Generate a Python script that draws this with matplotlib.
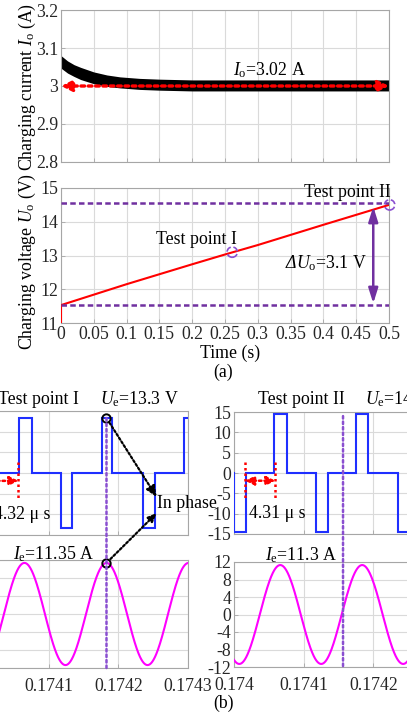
import numpy as np
import matplotlib
matplotlib.use('Agg')
import matplotlib.pyplot as plt
from matplotlib.patches import ConnectionPatch

plt.rcParams['font.family'] = ['Liberation Serif', 'DejaVu Serif']
plt.rcParams['mathtext.fontset'] = 'custom'
plt.rcParams['mathtext.rm'] = 'Liberation Serif'
plt.rcParams['mathtext.it'] = 'Liberation Serif:italic'
plt.rcParams['mathtext.sf'] = 'Liberation Serif:italic'
plt.rcParams['axes.unicode_minus'] = False
plt.rcParams['font.size'] = 12.8

# ---------------- data ----------------
# (a) top: charging current ripple envelope
t_env = [0.0, 0.01, 0.02, 0.03, 0.05, 0.07, 0.09, 0.12, 0.15, 0.2, 0.3, 0.4, 0.5]
i_upper = [3.080, 3.066, 3.056, 3.049, 3.037, 3.029, 3.024, 3.020, 3.018, 3.016, 3.016, 3.016, 3.016]
i_lower = [3.047, 3.034, 3.025, 3.017, 3.006, 2.999, 2.995, 2.991, 2.989, 2.987, 2.987, 2.987, 2.987]
i_avg = 3.0

# (a) bottom: charging voltage
t_v = [0.0, 0.0, 0.1, 0.2, 0.25, 0.3, 0.4, 0.5]
u_v = [11.0, 11.53, 12.15, 12.74, 13.03, 13.31, 13.91, 14.50]
u_low, u_high = 11.53, 14.56
tp_t = [0.261, 0.501]
tp_u = [13.10, 14.50]

# (b) square-wave voltage edges (microseconds after 0.174 s) and levels
sq1_edges_us = [-10, -0.6, 15.8, 58.0, 75.4, 117.4, 133.8, 176.4, 191.6, 235.8, 252.6, 293.8, 310.0]
sq1_levels = [0, -13.3, 0, 13.3, 0, -13.3, 0, 13.3, 0, -13.3, 0, 13.3]
sq2_edges_us = [-10, 0.3, 17.4, 58.0, 75.4, 117.4, 134.8, 175.4, 192.8, 234.8, 252.0, 293.5, 310.5, 320.0]
sq2_levels = [0, -14.5, 0, 14.5, 0, -14.5, 0, 14.5, 0, -14.5, 0, 14.5, 0]

# (b) sinusoidal currents: amplitude (A), period (us), time of a peak (us)
sin1_amp, sin1_period, sin1_peak = 11.35, 117.8, 183.0
sin2_amp, sin2_period, sin2_peak = 11.3, 117.6, 184.0

t_ticks_b = [0.174, 0.1741, 0.1742, 0.1743]
t_ticklabels_b = ['0.174', '0.1741', '0.1742', '0.1743']

# ---------------- layout ----------------
W, H = 407, 722
def rect(x0, y0, x1, y1):
    return [x0 / W, 1 - y1 / H, (x1 - x0) / W, (y1 - y0) / H]

fig = plt.figure(figsize=(W / 100, H / 100), dpi=100)
RED = '#ff0000'
PURPLE = '#7030a0'
PURPLE2 = '#8a4fd0'
BLUE = '#1f2fff'
MAG = '#ff00ff'

def style(ax, pad=2):
    for s in ax.spines.values():
        s.set_color('#a6a6a6')
        s.set_linewidth(0.8)
    ax.tick_params(direction='in', length=3, width=0.6, color='#a6a6a6',
                   labelcolor='#262626', pad=pad)
    ax.grid(True, color='#dadada', lw=0.8)
    ax.set_axisbelow(True)

def us(v):
    return 0.174 + np.asarray(v) * 1e-6

# ---- top: current ----
ax1 = fig.add_axes(rect(61, 10, 389, 162))
style(ax1)
ax1.fill_between(t_env, i_lower, i_upper, color='black', lw=0)
ax1.set_xlim(0, 0.5)
ax1.set_ylim(2.8, 3.2)
ax1.set_xticks(np.arange(0, 0.501, 0.05))
ax1.set_xticklabels([])
ax1.set_yticks([2.8, 2.9, 3.0, 3.1, 3.2])
ax1.set_yticklabels(['2.8', '2.9', '3', '3.1', '3.2'])
ax1.annotate('', xy=(0, i_avg), xytext=(0.5, i_avg),
             arrowprops=dict(arrowstyle='<|-|>,head_length=0.5,head_width=0.25',
                             color=RED, lw=2.4, linestyle=(0, (1.1, 1.1)),
                             shrinkA=0, shrinkB=0), zorder=5)
ax1.text(0.317, 3.042, r'$I_{\rm o}$=3.02 A', ha='center', va='center')

# ---- middle: voltage ----
ax2 = fig.add_axes(rect(61, 188, 389, 323))
style(ax2)
ax2.plot(t_v, u_v, color=RED, lw=1.5, zorder=3)
ax2.axhline(u_high, color=PURPLE, lw=1.8, ls=(0, (2.2, 1.3)), zorder=3)
ax2.axhline(u_low, color=PURPLE, lw=1.8, ls=(0, (2.2, 1.3)), zorder=3)
ax2.annotate('', xy=(0.476, 14.45), xytext=(0.476, 11.58),
             arrowprops=dict(arrowstyle='<|-|>,head_length=0.7,head_width=0.22',
                             color=PURPLE, lw=1.8, shrinkA=0, shrinkB=0), zorder=4)
ax2.scatter(tp_t, tp_u, s=55, facecolors='none', edgecolors=PURPLE2,
            linestyles='--', linewidths=1.2, clip_on=False, zorder=5)
ax2.text(0.466, 12.78, r'$\mathsf{\Delta U}_{\rm o}$=3.1 V', ha='right', va='center')
ax2.text(0.207, 13.46, 'Test point I', ha='center', va='center')
ax2.text(0.502, 14.86, 'Test point II', ha='right', va='center')
ax2.set_xlim(0, 0.5)
ax2.set_ylim(11, 15)
xt = np.arange(0, 0.501, 0.05)
ax2.set_xticks(xt)
ax2.set_xticklabels(['0', '0.05', '0.1', '0.15', '0.2', '0.25', '0.3', '0.35', '0.4', '0.45', '0.5'])
ax2.set_yticks([11, 12, 13, 14, 15])

fig.text(27 / W, 1 - 87 / H, r'Charging current $I_{\rm o}$ (A)', rotation=90,
         ha='center', va='center')
fig.text(27 / W, 1 - 262 / H, r'Charging voltage $U_{\rm o}$ (V)', rotation=90,
         ha='center', va='center')
fig.text(230 / W, 1 - 353 / H, 'Time (s)', ha='center', va='center')
fig.text(223 / W, 1 - 372 / H, '(a)', ha='center', va='center')

# ---- bottom panels ----
def wave_axes(r_sq, r_sin, edges, levels, amp, period, peak):
    a_sq = fig.add_axes(rect(*r_sq))
    a_sin = fig.add_axes(rect(*r_sin))
    for a in (a_sq, a_sin):
        style(a)
        a.set_xlim(0.174, 0.1743)
        a.set_xticks(t_ticks_b)
    a_sin.tick_params(axis='x', pad=7)
    a_sq.set_xticklabels([])
    a_sin.set_xticklabels(t_ticklabels_b)
    a_sq.stairs(levels, us(edges), baseline=None, color=BLUE, lw=1.5, zorder=3)
    a_sq.set_ylim(-15, 15)
    a_sq.set_yticks([-15, -10, -5, 0, 5, 10, 15])
    tt = np.linspace(0, 300, 1200)
    a_sin.plot(us(tt), amp * np.cos(2 * np.pi * (tt - peak) / period),
               color=MAG, lw=1.5, zorder=3)
    a_sin.set_ylim(-12, 12)
    a_sin.set_yticks([-12, -8, -4, 0, 4, 8, 12])
    return a_sq, a_sin

ax3, ax4 = wave_axes((-21, 411, 188, 535), (-21, 560, 188, 668),
                     sq1_edges_us, sq1_levels, sin1_amp, sin1_period, sin1_peak)
ax5, ax6 = wave_axes((234, 412, 443, 534), (234, 562, 443, 667),
                     sq2_edges_us, sq2_levels, sin2_amp, sin2_period, sin2_peak)

dot = (0, (1, 1.2))
# vertical purple lines
con = ConnectionPatch(xyA=(us(183.0), 13.3), coordsA=ax3.transData,
                      xyB=(us(183.0), -12), coordsB=ax4.transData,
                      color=PURPLE2, lw=1.8, ls=dot, zorder=6)
fig.add_artist(con)
con = ConnectionPatch(xyA=(us(156.5), 14.0), coordsA=ax5.transData,
                      xyB=(us(156.5), -12), coordsB=ax6.transData,
                      color=PURPLE2, lw=1.8, ls=dot, zorder=6)
fig.add_artist(con)

# circles
ax3.plot([us(183.0)], [13.3], marker='o', ms=6, mfc='none', mec='black', mew=1.4,
         clip_on=False, zorder=7)
ax4.plot([us(183.0)], [11.35], marker='o', ms=6, mfc='none', mec='black', mew=1.4,
         clip_on=False, zorder=7)

# "In phase" arrows
ax3.annotate('', xy=(us(255), -5.8), xytext=(us(183.0), 13.3),
             arrowprops=dict(arrowstyle='-|>,head_length=0.5,head_width=0.22',
                             color='black', lw=1.6, ls=(0, (1, 1)),
                             shrinkA=4, shrinkB=0), annotation_clip=False, zorder=8)
con = ConnectionPatch(xyA=(us(183.0), 11.35), coordsA=ax4.transData,
                      xyB=(us(255), -9.7), coordsB=ax3.transData,
                      arrowstyle='-|>,head_length=0.5,head_width=0.22',
                      color='black', lw=1.6, ls=(0, (1, 1)), shrinkA=4, shrinkB=0,
                      zorder=8)
fig.add_artist(con)
ax3.text(us(256), -7.5, 'In phase', ha='left', va='center', clip_on=False, zorder=9)

# red time-shift annotations
for a, xl, xr in ((ax3, 14.0, 56.5), (ax5, 16.0, 59.4)):
    for xv in (xl, xr):
        a.plot([us(xv), us(xv)], [2.66, -6.05], color=RED, lw=1.8, ls=dot, zorder=5)
    a.annotate('', xy=(us(xr), -1.9), xytext=(us(xl), -1.9),
               arrowprops=dict(arrowstyle='<|-|>,head_length=0.4,head_width=0.2',
                               color=RED, lw=1.8, ls=dot, shrinkA=0, shrinkB=0),
               annotation_clip=False, zorder=5)
ax3.text(us(103), -10.0, '4.32 \u03bc s', ha='right', va='center', zorder=9)
ax5.text(us(21.7), -9.9, '4.31 \u03bc s', ha='left', va='center', zorder=9)

# titles
fig.text(-2 / W, 1 - 399 / H, 'Test point I', ha='left', va='center')
fig.text(100 / W, 1 - 399 / H, r'$U_{\rm e}$=13.3 V', ha='left', va='center')
fig.text(258 / W, 1 - 399 / H, 'Test point II', ha='left', va='center')
fig.text(365 / W, 1 - 399 / H, r'$U_{\rm e}$=14.5 V', ha='left', va='center')
fig.text(13 / W, 1 - 554 / H, r'$I_{\rm e}$=11.35 A', ha='left', va='center')
fig.text(265 / W, 1 - 555 / H, r'$I_{\rm e}$=11.3 A', ha='left', va='center')
fig.text(223 / W, 1 - 703 / H, '(b)', ha='center', va='center')

fig.savefig('out.png', dpi=100)
